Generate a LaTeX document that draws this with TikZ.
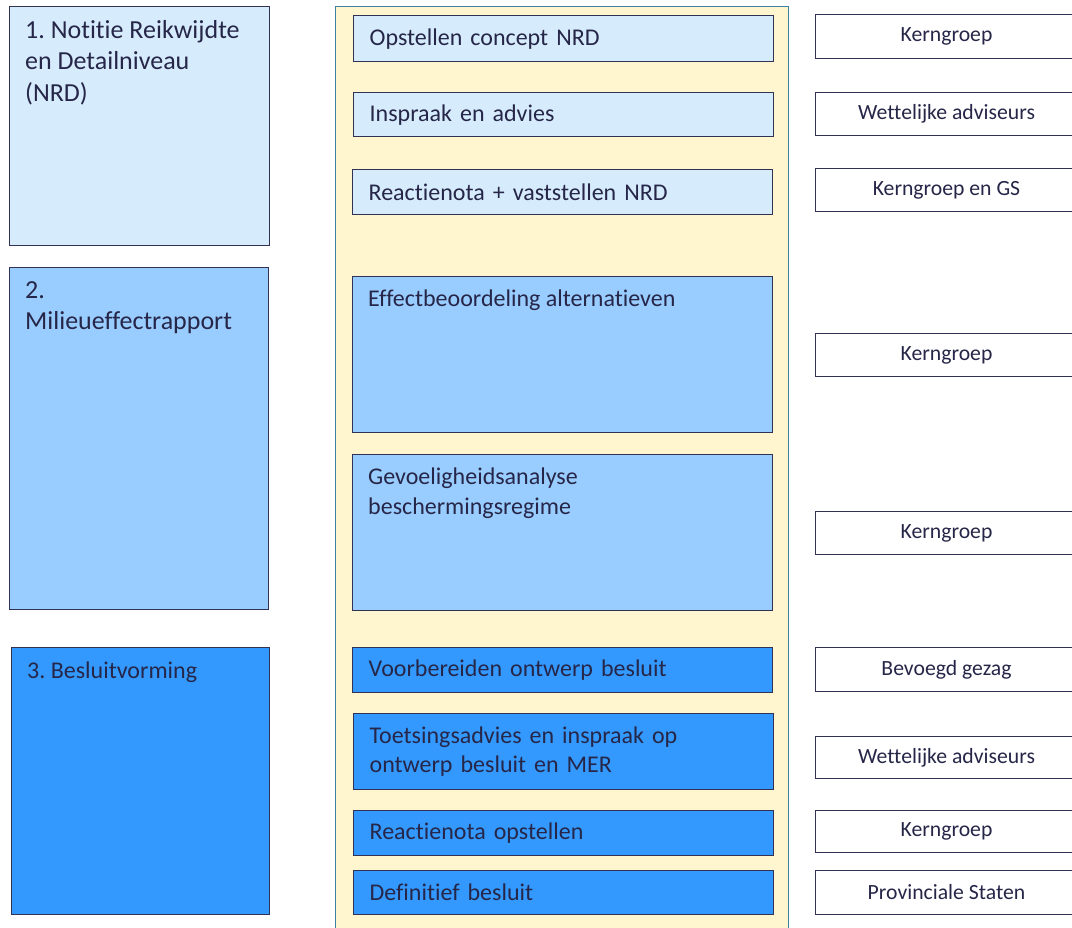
\documentclass[tikz,border=0pt]{standalone}
\usepackage{fontspec}
\setmainfont{Carlito}[Ligatures={NoCommon}]
\frenchspacing
\usetikzlibrary{positioning}
\definecolor{faselicht}{RGB}{214,236,252}
\definecolor{fasemidden}{RGB}{153,204,255}
\definecolor{fasedonker}{RGB}{51,153,255}
\definecolor{paneelgeel}{RGB}{255,245,206}
\definecolor{paneelrand}{RGB}{60,130,160}
\definecolor{randblauw}{RGB}{50,50,85}
\definecolor{tekstblauw}{RGB}{38,38,72}

\begin{document}
\begin{tikzpicture}[x=1pt,y=-1pt,
        fase/.style={draw=randblauw, line width=1.3pt, anchor=north west, inner sep=0},
        fasetekst/.style={anchor=north west, inner sep=0, xshift=16, yshift=-14, align=left, text=tekstblauw, font=\fontsize{26}{31.5}\selectfont},
        stap/.style={draw=randblauw, line width=1.3pt, anchor=north west, text width=388, inner xsep=16, inner ysep=0, align=left, text=tekstblauw, font=\fontsize{24}{29.5}\selectfont},
        staptekst/.style={anchor=north west, inner sep=0, xshift=16, yshift=-14, align=left, text=tekstblauw, font=\fontsize{24}{29.5}\selectfont},
        rol/.style={draw=randblauw, fill=white, line width=1pt, anchor=north west, minimum width=262, inner sep=0, text=tekstblauw, font=\fontsize{21.7}{26}\selectfont}]
                \useasboundingbox (0,0) rectangle (1072,928);
                \clip (0,0) rectangle (1072,928);
                % fasen
                \node[fase, fill=faselicht, minimum width=260, minimum height=239, label={[fasetekst]north west:1. Notitie Reikwijdte\\en Detailniveau\\(NRD)}] at (9,6) (nrd) {};
                \node[fase, fill=fasemidden, minimum width=259, minimum height=342, label={[fasetekst]north west:2.\\Milieueffectrapport}] at (9,267) (mer) {};
                \node[fase, fill=fasedonker, minimum width=258, minimum height=267, label={[fasetekst, yshift=-1, font=\fontsize{24}{29.5}\selectfont]north west:3. Besluitvorming}] at (11,647) (besl) {};
                % stappen
                \node[draw=paneelrand, fill=paneelgeel, line width=1.3pt, anchor=north west, minimum width=453, minimum height=940, inner sep=0] at (335,6) (paneel) {};
                \node[stap, fill=faselicht, minimum height=46] at (353,15) (concept) {Opstellen concept NRD};
                \node[stap, fill=faselicht, minimum height=44] at (353,92) (inspraak) {Inspraak en advies};
                \node[stap, fill=faselicht, minimum height=45] at (352,169) (vaststel) {Reactienota + vaststellen NRD};
                \node[stap, fill=fasemidden, minimum height=156, label={[staptekst]north west:Effectbeoordeling alternatieven}] at (352,276) (effect) {};
                \node[stap, fill=fasemidden, minimum height=156, label={[staptekst]north west:Gevoeligheidsanalyse\\beschermingsregime}] at (352,454) (gevoel) {};
                \node[stap, fill=fasedonker, minimum height=45] at (352,647) (voorb) {Voorbereiden ontwerp besluit};
                \node[stap, fill=fasedonker, minimum height=76] at (353,713) (toets) {Toetsingsadvies en inspraak op\\ontwerp besluit en MER};
                \node[stap, fill=fasedonker, minimum height=45] at (353,810) (reactie) {Reactienota opstellen};
                \node[stap, fill=fasedonker, minimum height=44] at (353,870) (defin) {Definitief besluit};
                % rollen
                \node[rol, minimum height=44] at (815,14) (kern1) {Kerngroep};
                \node[rol, minimum height=43] at (815,92) (wett1) {Wettelijke adviseurs};
                \node[rol, minimum height=43] at (815,168) (kerngs) {Kerngroep en GS};
                \node[rol, minimum height=43] at (815,333) (kern2) {Kerngroep};
                \node[rol, minimum height=43] at (815,511) (kern3) {Kerngroep};
                \node[rol, minimum height=44] at (815,647) (gezag) {Bevoegd gezag};
                \node[rol, minimum height=42] at (815,736) (wett2) {Wettelijke adviseurs};
                \node[rol, minimum height=42] at (815,810) (kern4) {Kerngroep};
                \node[rol, minimum height=44] at (815,870) (staten) {Provinciale Staten};
            \end{tikzpicture}
\end{document}
